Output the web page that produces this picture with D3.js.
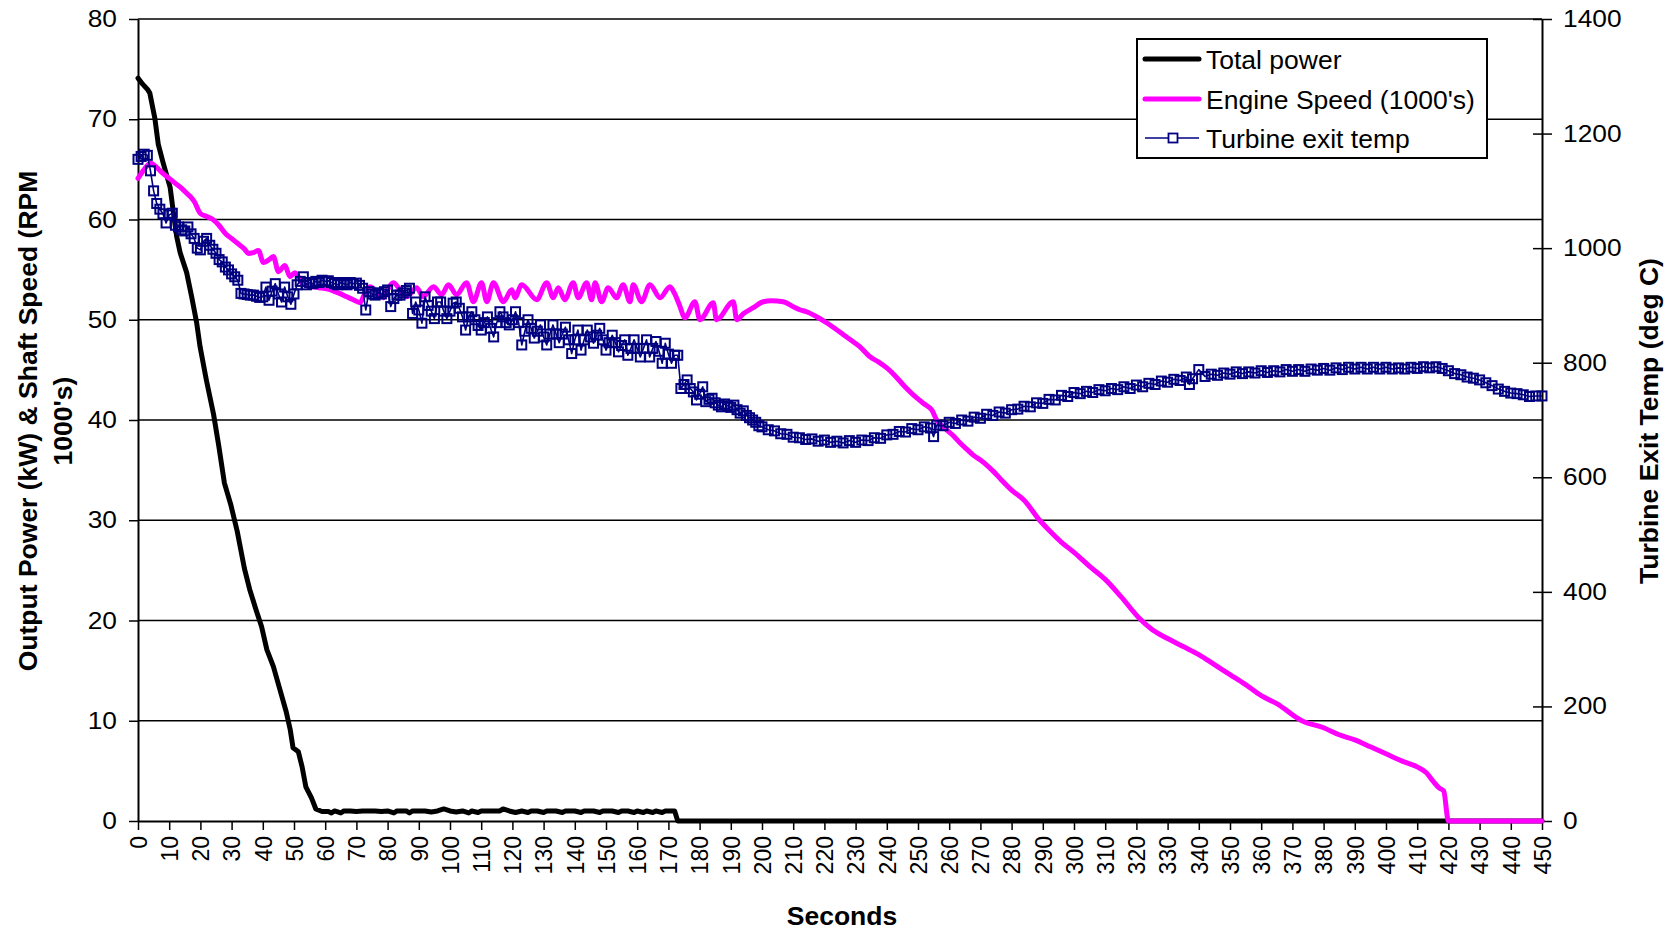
<!DOCTYPE html>
<html><head><meta charset="utf-8">
<script src="https://cdn.jsdelivr.net/npm/d3@7"></script>
<style>
body{margin:0;background:#fff}
svg{display:block}
text{font-family:"Liberation Sans",Arial,sans-serif;fill:#000}
</style>
</head><body>
<svg id="c" width="1671" height="932"></svg>
<script>
// ---------- tick labels ----------
const xTicks = [0,10,20,30,40,50,60,70,80,90,100,110,120,130,140,150,160,170,180,190,200,210,220,230,240,250,260,270,280,290,300,310,320,330,340,350,360,370,380,390,400,410,420,430,440,450];
const leftTicks = [0,10,20,30,40,50,60,70,80];
const rightTicks = [0,200,400,600,800,1000,1200,1400];

// ---------- series: [seconds, value] ----------
const powerData = [[0,74.1],[1.5,73.5],[3,73.0],[3.8,72.6],[4.5,71.5],[5.4,70.1],[6.5,67.5],[8.1,65.6],[10.3,63.2],[11.3,60.8],[12.4,58.3],[13.5,56.7],[15.6,54.7],[17.2,52.3],[18.8,49.7],[19.9,47.3],[21.9,44.0],[24.2,40.6],[25.9,37.4],[27.7,33.7],[29.7,31.6],[31.8,28.9],[34.1,25.2],[35.8,23.1],[37.9,21.0],[39.6,19.4],[41.3,17.1],[43.4,15.4],[45.4,13.2],[47.5,10.9],[48.8,9.1],[49.7,7.3],[51.4,6.9],[52.6,5.4],[53.8,3.4],[55.6,2.3],[57,1.2],[59,0.95],[61,0.95],[62,0.8],[63,1.0],[65,0.8],[66,1.0],[68,1.0],[70,0.95],[72,1.0],[74,1.0],[76,1.0],[78,0.95],[80,1.0],[82,0.8],[83,1.0],[86,1.0],[87,0.8],[88,1.0],[90,1.0],[92,1.0],[94,0.9],[96,1.0],[98,1.2],[100,1.0],[102,0.9],[104,1.0],[106,0.8],[107,1.0],[109,0.85],[110,1.0],[112,1.0],[114,1.0],[116,1.0],[117,1.2],[119,1.0],[121,0.85],[123,1.0],[125,0.85],[126,1.0],[128,1.0],[130,0.85],[131,1.0],[134,1.0],[136,0.85],[137,1.0],[140,1.0],[142,0.85],[143,1.0],[146,1.0],[148,0.85],[149,1.0],[152,1.0],[154,0.85],[155,1.0],[157,1.0],[159,0.85],[160,1.0],[162,0.85],[163,1.0],[165,0.85],[166,1.0],[168,0.85],[169,1.0],[171,1.0],[172,1.0],[173,0],[450,0]];

const speedData = [[0,64.1],[2,65.0],[4,65.6],[6,65.2],[8,64.6],[10,64.1],[12,63.6],[14,63.1],[15,62.8],[17,62.2],[18,61.8],[20,60.6],[22,60.3],[24,60.0],[26,59.4],[28,58.6],[30,58.1],[32,57.6],[34,57.1],[35.5,56.6],[37,56.7],[38.6,56.9],[40.2,55.7],[42,56.0],[43.4,56.3],[45,54.8],[47.1,55.4],[48.7,54.3],[50.3,54.7],[53,53.5],[56,53.3],[58,53.2],[61.5,53.0],[64,52.7],[66.9,52.3],[69,52.0],[71.2,51.7],[72.5,52.5],[74.4,53.3],[76.5,52.8],[78.6,52.2],[80,53.0],[81.8,53.7],[84,53.0],[86.1,52.3],[89.3,53.2],[91.4,52.3],[94.7,53.3],[97.3,52.5],[99.5,53.5],[102.1,52.5],[105.3,53.7],[107.5,51.8],[110.1,53.7],[111.8,51.8],[113.9,53.7],[117.1,51.8],[119.8,53.0],[120.8,52.2],[123,53.5],[127.8,52.0],[131,53.7],[133.1,52.2],[134.7,53.2],[136.8,52.0],[139.5,53.7],[141.1,52.2],[143.8,53.7],[145.4,52.0],[146.5,53.7],[148.6,51.8],[150.7,53.2],[153.4,52.2],[155.5,53.5],[157.7,51.8],[158.7,53.5],[161.4,51.8],[164.1,53.5],[167.3,52.2],[170.5,53.3],[172,52.6],[173.5,51.5],[175.3,50.2],[178.5,51.8],[180.1,50.0],[184.4,51.7],[185.4,50.0],[190.8,51.8],[191.9,50.0],[194,50.6],[197.2,51.2],[200.4,51.8],[203,51.9],[206.8,51.8],[210,51.3],[212.1,51.0],[214.3,50.8],[217.5,50.3],[220.7,49.7],[223.5,49.1],[226.1,48.5],[228.8,47.9],[231.4,47.3],[234.6,46.3],[237.3,45.8],[240,45.2],[242.7,44.4],[245.3,43.5],[247.5,42.8],[249.6,42.2],[252,41.6],[254.4,41.0],[256,40.0],[259.2,39.0],[261.4,38.4],[263.5,37.7],[265.6,37.1],[267.7,36.5],[270,36.0],[272,35.5],[274.4,34.8],[276.8,34.0],[280,33.0],[284,32.0],[289,30.0],[292,29.0],[296,27.8],[300,26.8],[305,25.4],[310,24.1],[315,22.4],[321,20.2],[325,19.1],[330,18.2],[335,17.4],[340,16.6],[345,15.6],[350,14.6],[355,13.6],[360,12.5],[365,11.7],[373,10.0],[380,9.3],[385,8.6],[390,8.1],[395,7.4],[400,6.7],[405,6.0],[410,5.4],[413,4.8],[415,4.0],[417,3.3],[418.5,3.0],[420,0],[450,0]];

const turbineData = [[0,1155],[1,1160],[2,1164],[3,1162],[4,1135],[5,1100],[6,1078],[7,1068],[8,1060],[9,1044],[10,1058],[11,1061],[12,1040],[13,1037],[14,1032],[15,1030],[16,1037],[17,1025],[18,1017],[19,1000],[20,997],[21,1012],[22,1017],[23,1005],[24,998],[25,991],[26,980],[27,976],[28,967],[29,962],[30,955],[31,950],[32,944],[33,921],[34,920],[35,919],[36,918],[37,918],[38,916],[39,914],[40,915],[41,932],[42,909],[43,925],[44,938],[45,920],[46,906],[47,932],[48,915],[49,902],[50,920],[51,936],[52,942],[53,950],[54,936],[55,940],[56,938],[57,942],[58,940],[59,944],[60,942],[61,943],[62,940],[63,938],[64,936],[65,940],[66,938],[67,936],[68,940],[69,938],[70,939],[71,935],[72,930],[73,892],[74,924],[75,920],[76,918],[77,922],[78,920],[79,924],[80,927],[81,898],[82,912],[83,918],[84,918],[85,922],[86,926],[87,930],[88,886],[89,906],[90,892],[91,869],[92,915],[93,900],[94,890],[95,877],[96,906],[97,906],[98,890],[99,877],[100,890],[101,904],[102,906],[103,895],[104,880],[105,857],[106,880],[107,889],[108,875],[109,865],[110,857],[111,870],[112,880],[113,860],[114,845],[115,870],[116,889],[117,880],[118,870],[119,866],[120,875],[121,889],[122,870],[123,831],[124,855],[125,875],[126,860],[127,843],[128,855],[129,866],[130,845],[131,831],[132,850],[133,866],[134,850],[135,835],[136,850],[137,862],[138,840],[139,816],[140,840],[141,857],[142,822],[143,840],[144,857],[145,845],[146,834],[147,848],[148,860],[149,840],[150,822],[151,835],[152,848],[153,835],[154,819],[155,830],[156,840],[157,813],[158,825],[159,840],[160,825],[161,810],[162,825],[163,840],[164,810],[165,825],[166,837],[167,820],[168,799],[169,834],[170,815],[171,799],[172,813],[173,813],[174,755],[175,762],[176,770],[177,755],[178,749],[179,735],[180,745],[181,758],[182,732],[183,736],[184,738],[185,730],[186,726],[187,723],[188,728],[189,725],[190,722],[191,726],[192,718],[193,712],[194,716],[195,708],[196,704],[197,700],[198,696],[199,690],[200,688],[202,683],[204,681],[206,676],[208,675],[210,670],[212,669],[214,666],[216,667],[218,663],[220,665],[222,661],[224,663],[226,660],[228,664],[230,661],[232,665],[234,664],[236,669],[238,668],[240,674],[242,675],[244,680],[246,679],[248,685],[250,683],[252,688],[254,686],[255,671],[256,691],[258,690],[260,696],[262,694],[264,700],[266,698],[268,705],[270,703],[272,710],[274,708],[276,714],[278,712],[280,718],[282,719],[284,724],[286,723],[288,730],[290,729],[292,736],[294,735],[296,743],[298,741],[300,748],[302,746],[304,750],[306,748],[308,753],[310,751],[312,755],[314,753],[316,758],[318,755],[320,761],[322,758],[324,764],[326,762],[328,768],[330,766],[332,771],[334,769],[336,775],[337,762],[338,772],[340,788],[342,776],[344,780],[346,778],[348,782],[350,780],[352,784],[354,781],[356,784],[358,782],[360,786],[362,783],[364,786],[366,784],[368,788],[370,785],[372,788],[374,785],[376,789],[378,787],[380,790],[382,787],[384,791],[386,788],[388,792],[390,789],[392,792],[394,789],[396,792],[398,789],[400,792],[402,789],[404,791],[406,789],[408,792],[410,790],[412,793],[414,791],[416,793],[418,790],[420,786],[422,781],[424,779],[426,775],[428,773],[430,770],[432,765],[434,760],[436,754],[438,750],[440,747],[442,746],[444,744],[446,741],[448,742],[450,742]];

const seriesNames = ["Total power","Engine Speed (1000's)","Turbine exit temp"];
const colors = {power:"#000000", speed:"#FF00FF", turbine:"#000080"};

// ---------- layout ----------
const svg = d3.select("#c");
const M = {l:138, r:1542, t:19, b:821};
const x = d3.scaleLinear().domain([0,450]).range([M.l,M.r]);
const yL = d3.scaleLinear().domain([0,80]).range([M.b,M.t]);
const yR = d3.scaleLinear().domain([0,1400]).range([M.b,M.t]);
const FONT = '"Liberation Sans",Arial,sans-serif';
const SX = 1.12; // horizontal stretch of the tick-label glyphs in the reference

// gridlines
svg.append("g").selectAll("line").data(leftTicks.filter(d=>d>0)).join("line")
  .attr("x1",M.l).attr("x2",M.r)
  .attr("y1",d=>yL(d)).attr("y2",d=>yL(d))
  .attr("stroke","#000").attr("stroke-width",1.4);

// left axis
const gL = svg.append("g").attr("transform",`translate(${M.l},0)`)
  .call(d3.axisLeft(yL).tickValues(leftTicks).tickSize(9).tickSizeOuter(0).tickFormat(d3.format("d")));
gL.attr("font-family",FONT).attr("font-size",23.5);
gL.select(".domain").attr("stroke","#000").attr("stroke-width",2);
gL.selectAll(".tick line").attr("stroke","#000").attr("stroke-width",1.5);
gL.selectAll(".tick text").attr("fill","#000")
  .attr("transform",`scale(${SX},1)`).attr("x",-21/SX);

// right axis
const gR = svg.append("g").attr("transform",`translate(${M.r},0)`)
  .call(d3.axisRight(yR).tickValues(rightTicks).tickSize(10).tickSizeOuter(0).tickFormat(d3.format("d")));
gR.attr("font-family",FONT).attr("font-size",23.5);
gR.select(".domain").attr("stroke","#000").attr("stroke-width",2);
gR.selectAll(".tick line").attr("stroke","#000").attr("stroke-width",1.5).attr("x1",-9).attr("x2",10);
gR.selectAll(".tick text").attr("fill","#000")
  .attr("transform",`scale(${SX},1)`).attr("x",21/SX);

// bottom axis
const gB = svg.append("g").attr("transform",`translate(0,${M.b})`)
  .call(d3.axisBottom(x).tickValues(xTicks).tickSize(9).tickSizeOuter(0).tickFormat(d3.format("d")));
gB.attr("font-family",FONT).attr("font-size",23);
gB.select(".domain").attr("stroke","#000").attr("stroke-width",2);
gB.selectAll(".tick line").attr("stroke","#000").attr("stroke-width",1.5);
gB.selectAll(".tick text").attr("fill","#000")
  .attr("transform","rotate(-90)").attr("x",-15).attr("y",0).attr("dy","0.36em")
  .attr("text-anchor","end");

// series lines
const line = (yScale, curve) => d3.line().curve(curve || d3.curveLinear).x(d=>x(d[0])).y(d=>yScale(d[1]));
svg.append("path").datum(powerData).attr("d",line(yL))
  .attr("fill","none").attr("stroke",colors.power).attr("stroke-width",5)
  .attr("stroke-linejoin","round").attr("stroke-linecap","round");
svg.append("path").datum(speedData).attr("d",line(yL, d3.curveMonotoneX))
  .attr("fill","none").attr("stroke",colors.speed).attr("stroke-width",5)
  .attr("stroke-linejoin","round").attr("stroke-linecap","round");
svg.append("path").datum(turbineData).attr("d",line(yR))
  .attr("fill","none").attr("stroke",colors.turbine).attr("stroke-width",1.6)
  .attr("stroke-linejoin","round");
const MS = 9;
svg.append("g").selectAll("rect").data(turbineData).join("rect")
  .attr("x",d=>x(d[0])-MS/2).attr("y",d=>yR(d[1])-MS/2)
  .attr("width",MS).attr("height",MS)
  .attr("fill","none").attr("stroke",colors.turbine).attr("stroke-width",2);

// axis titles
const title = (txt, tx, ty, rot) => svg.append("text")
  .attr("transform",`translate(${tx},${ty})${rot?" rotate(-90)":""}`)
  .attr("text-anchor","middle").attr("dy", rot ? "0.36em" : 0)
  .attr("font-family",FONT).attr("font-weight","bold").attr("font-size",26.5)
  .text(txt);
title("Output Power (kW) & Shaft Speed (RPM", 27, 421, true);
title("1000's)", 62, 421, true);
title("Turbine Exit Temp (deg C)", 1648, 421, true);
title("Seconds", 842, 925, false);

// legend
const lg = svg.append("g");
lg.append("rect").attr("x",1137).attr("y",39).attr("width",350).attr("height",119)
  .attr("fill","#fff").attr("stroke","#000").attr("stroke-width",2);
const rowsY = [59,99,138];
const legendItems = [
  {name:seriesNames[0], color:colors.power, w:5, marker:false},
  {name:seriesNames[1], color:colors.speed, w:5, marker:false},
  {name:seriesNames[2], color:colors.turbine, w:1.6, marker:true}
];
legendItems.forEach((it,i)=>{
  const yy = rowsY[i];
  lg.append("line").attr("x1",1145).attr("x2",1199).attr("y1",yy).attr("y2",yy)
    .attr("stroke",it.color).attr("stroke-width",it.w).attr("stroke-linecap", it.marker?"butt":"round");
  if(it.marker){
    lg.append("rect").attr("x",1173-4.5).attr("y",yy-4.5).attr("width",9).attr("height",9)
      .attr("fill","#fff").attr("stroke",it.color).attr("stroke-width",1.8);
  }
  lg.append("text").attr("x",1206).attr("y",yy+10).attr("font-family",FONT).attr("font-size",26.5).text(it.name);
});
</script>
</body></html>
